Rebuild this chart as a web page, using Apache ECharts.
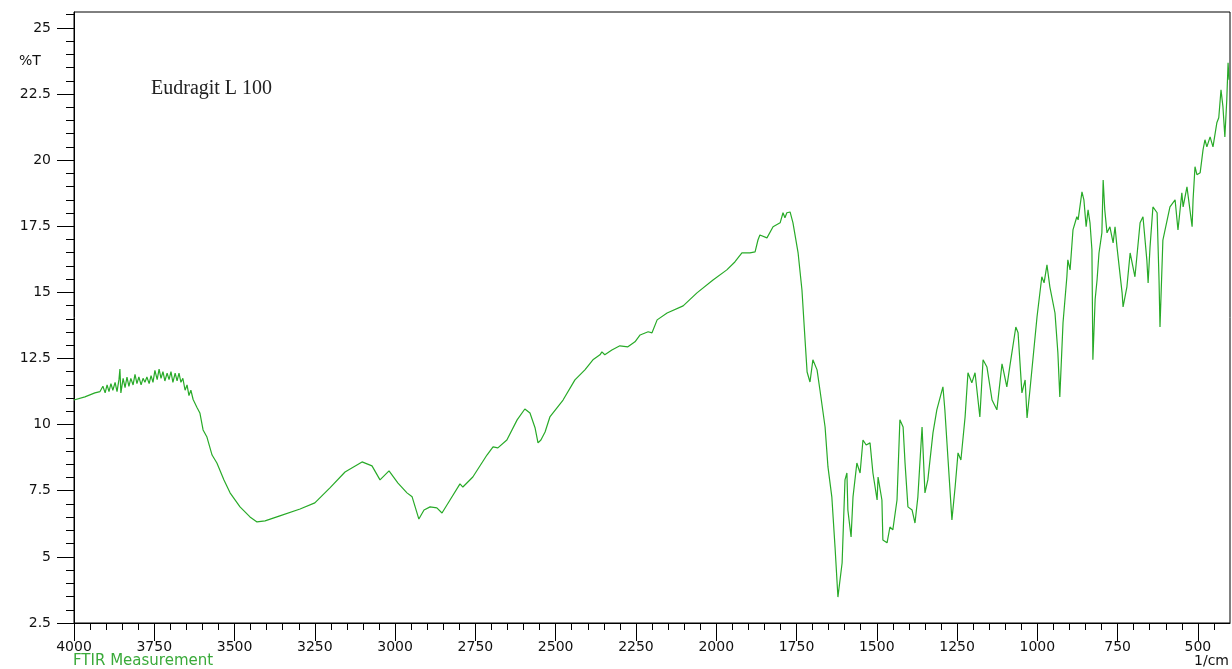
<!DOCTYPE html>
<html>
<head>
<meta charset="utf-8">
<script src="https://cdn.jsdelivr.net/npm/echarts@6/dist/echarts.min.js"></script>
<style>
html,body{margin:0;padding:0;background:#fff;}
#chart{width:1232px;height:669px;}
</style>
</head>
<body>
<div id="chart"></div>
<script>
// ---- data ----
const chartTitle = 'Eudragit L 100';
const xTickLabels = [4000, 3750, 3500, 3250, 3000, 2750, 2500, 2250, 2000, 1750, 1500, 1250, 1000, 750, 500];
const yTickLabels = [2.5, 5, 7.5, 10, 12.5, 15, 17.5, 20, 22.5, 25];
const wavenumber = [
4000,3966,3935,3919,3910,3903,3897,3891,3885,3879,3872,3866,3860,3857,3854,3847,3841,3835,3829,3823,3816,3810,3804,3798,3791,3785,3779,3773,3766,3760,3754,3748,3741,3735,3729,3723,3717,3710,3704,3698,3692,3685,3679,3673,3667,3661,3654,3648,3642,3636,3629,3623,3617,3608,3598,3586,3570,3555,3533,3514,3483,3452,3430,3405,3359,3296,3250,3203,3156,3103,3072,3047,3019,2991,2963,2947,2926,2910,2891,2870,2854,2829,2798,2789,2758,2714,2695,2680,2652,2620,2596,2580,2564,2555,2546,2533,2518,2477,2440,2409,2384,2362,2356,2347,2325,2300,2275,2253,2237,2212,2200,2184,2153,2103,2060,2010,1967,1942,1920,1895,1879,1870,1864,1842,1823,1801,1792,1786,1780,1770,1761,1745,1733,1724,1717,1708,1699,1686,1677,1661,1652,1640,1630,1621,1608,1599,1593,1590,1580,1574,1562,1552,1543,1533,1521,1512,1499,1496,1484,1481,1468,1459,1450,1437,1428,1418,1412,1403,1390,1381,1372,1359,1350,1341,1325,1313,1294,1288,1278,1266,1256,1247,1238,1225,1216,1204,1194,1179,1169,1157,1141,1126,1110,1104,1095,1085,1067,1060,1048,1038,1032,1023,1001,986,979,970,961,945,936,930,920,908,905,898,889,877,873,861,855,848,842,836,830,827,820,814,808,799,795,790,783,774,764,758,752,736,733,721,711,696,680,671,659,655,649,640,627,621,618,609,587,571,562,550,546,534,518,515,509,503,493,484,478,472,462,453,441,435,428,422,416,410,406,403
];
const transmittance = [
10.93,11.05,11.20,11.25,11.45,11.20,11.50,11.25,11.55,11.30,11.60,11.25,11.70,12.10,11.20,11.75,11.40,11.80,11.45,11.75,11.50,11.90,11.55,11.80,11.50,11.75,11.60,11.80,11.55,11.85,11.60,12.05,11.70,12.10,11.75,12.00,11.65,11.95,11.70,12.00,11.60,11.95,11.65,11.95,11.60,11.75,11.30,11.50,11.10,11.30,10.95,11.00,10.65,10.44,9.80,9.53,8.85,8.55,7.91,7.42,6.89,6.51,6.32,6.36,6.55,6.81,7.04,7.61,8.21,8.59,8.44,7.91,8.25,7.79,7.42,7.27,6.43,6.77,6.89,6.85,6.66,7.15,7.76,7.64,8.02,8.85,9.16,9.12,9.42,10.18,10.59,10.44,9.87,9.31,9.42,9.72,10.29,10.93,11.69,12.07,12.45,12.64,12.75,12.64,12.82,12.98,12.94,13.13,13.39,13.51,13.47,13.96,14.22,14.49,14.98,15.47,15.85,16.15,16.49,16.49,16.53,16.98,17.17,17.06,17.48,17.63,18.01,17.82,18.01,18.04,17.63,16.49,15.09,13.32,11.99,11.61,12.45,12.07,11.31,9.91,8.40,7.27,5.37,3.48,4.77,7.91,8.17,6.77,5.75,7.27,8.55,8.17,9.42,9.23,9.31,8.17,7.15,8.02,7.15,5.64,5.53,6.13,6.02,7.15,10.18,9.91,8.55,6.89,6.77,6.28,7.27,9.91,7.42,7.91,9.69,10.56,11.43,10.56,8.66,6.40,7.64,8.93,8.66,10.29,11.96,11.58,11.96,10.29,12.45,12.18,10.93,10.56,12.30,11.96,11.43,12.26,13.69,13.47,11.20,11.69,10.25,11.31,14.07,15.59,15.36,16.04,15.21,14.22,12.71,11.05,13.85,15.59,16.23,15.85,17.36,17.86,17.74,18.80,18.50,17.48,18.12,17.63,16.61,12.45,14.73,15.47,16.49,17.25,19.25,18.12,17.25,17.48,16.87,17.48,16.72,14.98,14.45,15.21,16.49,15.59,17.63,17.86,16.23,15.36,16.72,18.23,18.01,15.47,13.69,16.98,18.23,18.50,17.36,18.76,18.23,18.99,17.48,18.50,19.75,19.45,19.52,20.39,20.77,20.50,20.88,20.50,21.41,21.60,22.66,22.02,20.88,22.28,23.68,23.04
];

// ---- chart ----
const X_MIN = 400, X_MAX = 4000, Y_MIN = 2.5, Y_MAX = 25.6;
const minorX = [];
for (let v = 450; v <= 4000; v += 50) minorX.push(v);
const minorY = [];
for (let v = 2.5; v <= 25.5001; v += 0.5) minorY.push(Math.round(v * 10) / 10);

const seriesData = wavenumber.map((w, i) => [w, transmittance[i]]);
const axisFont = { fontFamily: 'DejaVu Sans', fontSize: 14, color: '#111' };
const plain = v => String(v);

const chart = echarts.init(document.getElementById('chart'), null, { renderer: 'canvas' });
chart.setOption({
  backgroundColor: '#ffffff',
  animation: false,
  title: {
    text: chartTitle,
    left: 146, top: 74,
    textStyle: { fontFamily: 'Liberation Serif', fontSize: 20, fontWeight: 'normal', color: '#222' }
  },
  grid: { left: 74, right: 2, top: 12, bottom: 46, show: true, borderColor: '#000', borderWidth: 1, backgroundColor: 'transparent' },
  xAxis: [
    {
      type: 'value', inverse: true, min: X_MIN, max: X_MAX, position: 'bottom',
      axisLine: { show: true, lineStyle: { color: '#000', width: 1 } },
      axisTick: { show: true, length: 7, customValues: minorX, lineStyle: { color: '#000', width: 1 } },
      axisLabel: { show: false },
      splitLine: { show: false }
    },
    {
      type: 'value', inverse: true, min: X_MIN, max: X_MAX, position: 'bottom',
      axisLine: { show: false },
      axisTick: { show: true, length: 18, customValues: xTickLabels, lineStyle: { color: '#000', width: 1 } },
      axisLabel: Object.assign({ show: true, margin: 17, customValues: xTickLabels, formatter: plain }, axisFont),
      splitLine: { show: false }
    }
  ],
  yAxis: [
    {
      type: 'value', min: Y_MIN, max: Y_MAX, position: 'left',
      axisLine: { show: true, lineStyle: { color: '#000', width: 1 } },
      axisTick: { show: true, length: 8, customValues: minorY, lineStyle: { color: '#000', width: 1 } },
      axisLabel: { show: false },
      splitLine: { show: false }
    },
    {
      type: 'value', min: Y_MIN, max: Y_MAX, position: 'left',
      axisLine: { show: false },
      axisTick: { show: true, length: 17, customValues: yTickLabels, lineStyle: { color: '#000', width: 1 } },
      axisLabel: Object.assign({ show: true, margin: 23, customValues: yTickLabels, formatter: plain }, axisFont),
      splitLine: { show: false }
    }
  ],
  graphic: [
    { type: 'text', left: 19, top: 54, style: { text: '%T', font: '14px "DejaVu Sans"', fill: '#111' } },
    { type: 'text', left: 73, top: 654, style: { text: 'FTIR Measurement', font: '15px "DejaVu Sans"', fill: '#3aaa3a' } },
    { type: 'text', right: 3, top: 654, style: { text: '1/cm', font: '14px "DejaVu Sans"', fill: '#111' } }
  ],
  series: [{
    type: 'line', xAxisIndex: 0, yAxisIndex: 0,
    data: seriesData,
    showSymbol: false, smooth: false,
    lineStyle: { color: '#28aa28', width: 1.2 },
    silent: true
  }]
});
</script>
</body>
</html>
